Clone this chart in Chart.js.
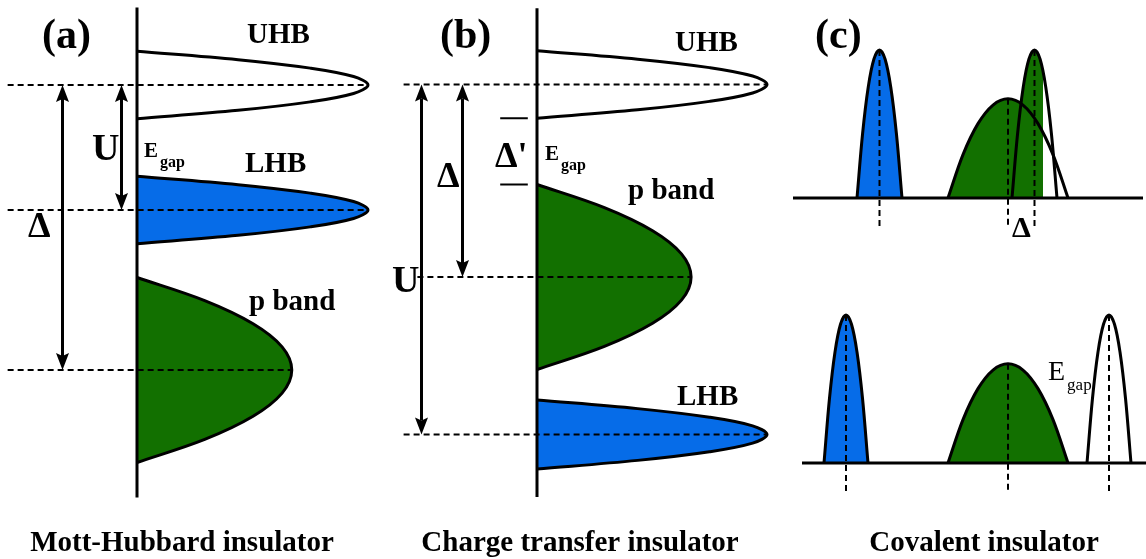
<!DOCTYPE html>
<html>
<head>
<meta charset="utf-8">
<script src="https://cdn.jsdelivr.net/npm/chart.js@4.4.0/dist/chart.umd.min.js"></script>
<style>
  html, body { margin: 0; padding: 0; background: #fff; }
  #wrap { position: relative; width: 1146px; height: 559px; }
  canvas { display: block; }
</style>
</head>
<body>
<div id="wrap"><canvas id="bands" width="1146" height="559"></canvas></div>
<script>
// ---------------- data ----------------
// (a) Mott-Hubbard insulator: energy (vertical) vs. density of states (horizontal)
const bandNamesA   = ['UHB', 'LHB', 'p band'];
const bandCentersA = [11.4, 6.4, 0];
const bandHalfA    = [1.35, 1.35, 3.7];
const bandPeakA    = [1.0, 1.0, 0.67];

// (b) Charge transfer insulator
const bandNamesB   = ['UHB', 'p band', 'LHB'];
const bandCentersB = [7.7, 0, -6.3];
const bandHalfB    = [1.35, 3.7, 1.38];
const bandPeakB    = [1.0, 0.67, 1.0];

// (c) Covalent insulator: energy (horizontal) vs. density of states (vertical)
// upper sketch: overlapping bands, occupied up to fermiCt
const peakCentersCt = [-5.14, 0, 1.06];
const peakHalfCt    = [0.9, 2.4, 0.9];
const peakHeightCt  = [1.0, 0.67, 1.0];
const fermiCt = 1.4;
// lower sketch: separated bands
const peakCentersCb = [-6.48, 0, 4.04];
const peakHalfCb    = [0.88, 2.4, 0.88];
const peakHeightCb  = [1.0, 0.67, 1.0];

// normalised DOS profile, sampled evenly across one band
const bandProfile = [0, 0.4375, 0.75, 0.9375, 1, 0.9375, 0.75, 0.4375, 0];

// ---------------- layout & style ----------------
const W = 1146, H = 559;
const FONT = "'Liberation Serif', 'Times New Roman', serif";
const BLUE = '#066ce8', GREEN = '#127000', WHITE = '#ffffff';

// each scale: where its zero sits on the canvas and how many px one unit spans
const frame = {
  xA:  { origin: 137,  unit: 231, dir: 1,  size: W },
  yA:  { origin: 370,  unit: 25,  dir: -1, size: H },
  xB:  { origin: 537,  unit: 230, dir: 1,  size: W },
  yB:  { origin: 277,  unit: 25,  dir: -1, size: H },
  xC:  { origin: 1008, unit: 25,  dir: 1,  size: W },
  yCt: { origin: 198,  unit: 148, dir: -1, size: H },
  yCb: { origin: 463,  unit: 148, dir: -1, size: H }
};
function range(f) {
  return f.dir > 0
    ? { min: -f.origin / f.unit, max: (f.size - f.origin) / f.unit }
    : { min: (f.origin - f.size) / f.unit, max: f.origin / f.unit };
}
const scales = {};
Object.keys(frame).forEach(k => {
  const r = range(frame[k]);
  scales[k] = { type: 'linear', display: false, min: r.min, max: r.max };
});

// extents of axes and guide lines (in scale units)
const axisA = [14.5, -5.1];
const axisB = [10.75, -8.8];
const guideStartA = -0.56;
const guideStartB = [-0.58, -0.52, -0.58];
const baseCt = [-8.6, 5.4];
const baseCb = [-8.24, 5.6];
const dropEnd = -0.2;
const arrowPosA = { U: -0.069, D: -0.325 };
const arrowPosB = { U: -0.504, D: -0.326 };
const tickB = [-0.16, -0.04];

// ---------------- helpers ----------------
function bandPoints(center, half, peak, sideways) {
  const n = bandProfile.length;
  return bandProfile.map((f, i) => {
    const e = sideways ? center + half * (1 - 2 * i / (n - 1))
                       : center + half * (2 * i / (n - 1) - 1);
    const d = peak * f;
    return sideways ? { x: d, y: e } : { x: e, y: d };
  });
}
function curve(data, xs, ys, fillColor, fillMode, extra) {
  return Object.assign({
    data, xAxisID: xs, yAxisID: ys, showLine: true,
    borderColor: '#000', borderWidth: 3, borderJoinStyle: 'round',
    backgroundColor: fillColor || 'rgba(0,0,0,0)', fill: fillMode || false,
    tension: 0.35, pointRadius: 0, pointHoverRadius: 0, order: 5
  }, extra || {});
}
function segment(p1, p2, xs, ys, dashed, width, order) {
  return {
    data: [p1, p2], xAxisID: xs, yAxisID: ys, showLine: true,
    borderColor: '#000', borderWidth: width || 3, borderDash: dashed ? [6, 4] : [],
    borderCapStyle: 'butt', fill: false, tension: 0,
    pointRadius: 0, pointHoverRadius: 0, order: order || 1
  };
}

const datasets = [];

// (a) bands
const fillA = [WHITE, BLUE, GREEN];
bandNamesA.forEach((n, i) => {
  datasets.push(curve(bandPoints(bandCentersA[i], bandHalfA[i], bandPeakA[i], true),
    'xA', 'yA', fillA[i], 'shape'));
});
bandCentersA.forEach((e, i) => {
  datasets.push(segment({ x: guideStartA, y: e }, { x: bandPeakA[i], y: e }, 'xA', 'yA', true, 2, 2));
});
datasets.push(segment({ x: 0, y: axisA[0] }, { x: 0, y: axisA[1] }, 'xA', 'yA', false, 3, 1));

// (b) bands
const fillB = [WHITE, GREEN, BLUE];
bandNamesB.forEach((n, i) => {
  datasets.push(curve(bandPoints(bandCentersB[i], bandHalfB[i], bandPeakB[i], true),
    'xB', 'yB', fillB[i], 'shape'));
});
bandCentersB.forEach((e, i) => {
  datasets.push(segment({ x: guideStartB[i], y: e }, { x: bandPeakB[i], y: e }, 'xB', 'yB', true, 2, 2));
});
datasets.push(segment({ x: 0, y: axisB[0] }, { x: 0, y: axisB[1] }, 'xB', 'yB', false, 3, 1));
// charge-transfer gap markers: bottom of UHB and top of p band
const gapEdgesB = [bandCentersB[0] - bandHalfB[0], bandCentersB[1] + bandHalfB[1]];
gapEdgesB.forEach(e => {
  datasets.push(segment({ x: tickB[0], y: e }, { x: tickB[1], y: e }, 'xB', 'yB', false, 2, 1));
});

// (c) upper: occupied parts shaded up to the Fermi level
const rC = range(frame.xC);
const fermiPx = (fermiCt - rC.min) / (rC.max - rC.min) * W;
const clipEF = { left: false, top: false, right: -(W - fermiPx), bottom: false };
[1, 2].forEach(i => {
  datasets.push(curve(bandPoints(peakCentersCt[i], peakHalfCt[i], peakHeightCt[i], false),
    'xC', 'yCt', GREEN, 'origin', { borderWidth: 0, borderColor: 'rgba(0,0,0,0)', clip: clipEF, order: 7 }));
});
datasets.push(curve(bandPoints(peakCentersCt[0], peakHalfCt[0], peakHeightCt[0], false),
  'xC', 'yCt', BLUE, 'origin', { order: 6 }));
[1, 2].forEach(i => {
  datasets.push(curve(bandPoints(peakCentersCt[i], peakHalfCt[i], peakHeightCt[i], false),
    'xC', 'yCt', null, false, { order: 4 }));
});
peakCentersCt.forEach((e, i) => {
  datasets.push(segment({ x: e, y: peakHeightCt[i] }, { x: e, y: dropEnd }, 'xC', 'yCt', true, 2, 2));
});
datasets.push(segment({ x: baseCt[0], y: 0 }, { x: baseCt[1], y: 0 }, 'xC', 'yCt', false, 3, 1));

// (c) lower
const fillCb = [BLUE, GREEN, WHITE];
peakCentersCb.forEach((e, i) => {
  datasets.push(curve(bandPoints(e, peakHalfCb[i], peakHeightCb[i], false),
    'xC', 'yCb', fillCb[i], 'origin'));
  datasets.push(segment({ x: e, y: peakHeightCb[i] }, { x: e, y: dropEnd }, 'xC', 'yCb', true, 2, 2));
});
datasets.push(segment({ x: baseCb[0], y: 0 }, { x: baseCb[1], y: 0 }, 'xC', 'yCb', false, 3, 1));

// ---------------- arrows & labels ----------------
const arrows = [
  { xs: 'xA', ys: 'yA', d: arrowPosA.D, from: bandCentersA[0], to: bandCentersA[2] },
  { xs: 'xA', ys: 'yA', d: arrowPosA.U, from: bandCentersA[0], to: bandCentersA[1] },
  { xs: 'xB', ys: 'yB', d: arrowPosB.U, from: bandCentersB[0], to: bandCentersB[2] },
  { xs: 'xB', ys: 'yB', d: arrowPosB.D, from: bandCentersB[0], to: bandCentersB[1] }
];

const B = 'bold ';
const labels = [
  { t: '(a)', x: 42, y: 48, f: B + '42px' },
  { t: '(b)', x: 440, y: 48, f: B + '42px' },
  { t: '(c)', x: 815, y: 48, f: B + '42px' },
  { t: 'UHB', x: 247, y: 43, f: B + '29px' },
  { t: 'LHB', x: 245, y: 172, f: B + '29px' },
  { t: 'p band', x: 249, y: 310, f: B + '29px' },
  { t: 'UHB', x: 675, y: 51, f: B + '29px' },
  { t: 'p band', x: 628, y: 199, f: B + '29px' },
  { t: 'LHB', x: 677, y: 405, f: B + '29px' },
  { t: 'U', x: 92, y: 160, f: B + '38px' },
  { t: 'Δ', x: 28, y: 237, f: B + '36px' },
  { t: 'U', x: 392, y: 292, f: B + '38px' },
  { t: 'Δ', x: 437, y: 187, f: B + '36px' },
  { t: "Δ'", x: 495, y: 167, f: B + '36px' },
  { t: 'Δ', x: 1012, y: 237, f: B + '30px' },
  { t: 'E', sub: 'gap', x: 144, y: 157, f: B + '21px', fs: B + '16px', dy: 10 },
  { t: 'E', sub: 'gap', x: 545, y: 160, f: B + '21px', fs: B + '16px', dy: 10 },
  { t: 'E', sub: 'gap', x: 1048, y: 380, f: '28px', fs: '17px', dy: 10 }
];
const captions = [
  { t: 'Mott-Hubbard insulator', x: 182 },
  { t: 'Charge transfer insulator', x: 580 },
  { t: 'Covalent insulator', x: 984 }
];

const annotate = {
  id: 'annotate',
  afterDatasetsDraw(chart) {
    const ctx = chart.ctx, s = chart.scales;
    ctx.save();
    ctx.fillStyle = '#000';
    ctx.strokeStyle = '#000';
    arrows.forEach(a => {
      const x = Math.round(s[a.xs].getPixelForValue(a.d)) + 0.5;
      const y1 = s[a.ys].getPixelForValue(a.from);
      const y2 = s[a.ys].getPixelForValue(a.to);
      const dir = Math.sign(y2 - y1);
      const len = 17, hw = 6.5;
      ctx.lineWidth = 3;
      ctx.beginPath();
      ctx.moveTo(x, y1 + dir * (len - 3));
      ctx.lineTo(x, y2 - dir * (len - 3));
      ctx.stroke();
      [[y1, -dir], [y2, dir]].forEach(([yt, sgn]) => {
        ctx.beginPath();
        ctx.moveTo(x, yt);
        ctx.lineTo(x - hw, yt - sgn * len);
        ctx.lineTo(x, yt - sgn * (len - 3));
        ctx.lineTo(x + hw, yt - sgn * len);
        ctx.closePath();
        ctx.fill();
      });
    });
    ctx.textBaseline = 'alphabetic';
    ctx.textAlign = 'left';
    labels.forEach(l => {
      ctx.font = l.f + ' ' + FONT;
      ctx.fillText(l.t, l.x, l.y);
      if (l.sub) {
        const w = ctx.measureText(l.t).width;
        ctx.font = l.fs + ' ' + FONT;
        ctx.fillText(l.sub, l.x + w + 2, l.y + l.dy);
      }
    });
    ctx.textAlign = 'center';
    ctx.font = 'bold 29px ' + FONT;
    captions.forEach(c => ctx.fillText(c.t, c.x, 551));
    ctx.restore();
  }
};

new Chart(document.getElementById('bands'), {
  type: 'scatter',
  data: { datasets },
  options: {
    responsive: false,
    animation: false,
    devicePixelRatio: 1,
    layout: { padding: 0 },
    scales,
    plugins: { legend: { display: false }, tooltip: { enabled: false }, title: { display: false } },
    events: []
  },
  plugins: [annotate]
});
</script>
</body>
</html>
